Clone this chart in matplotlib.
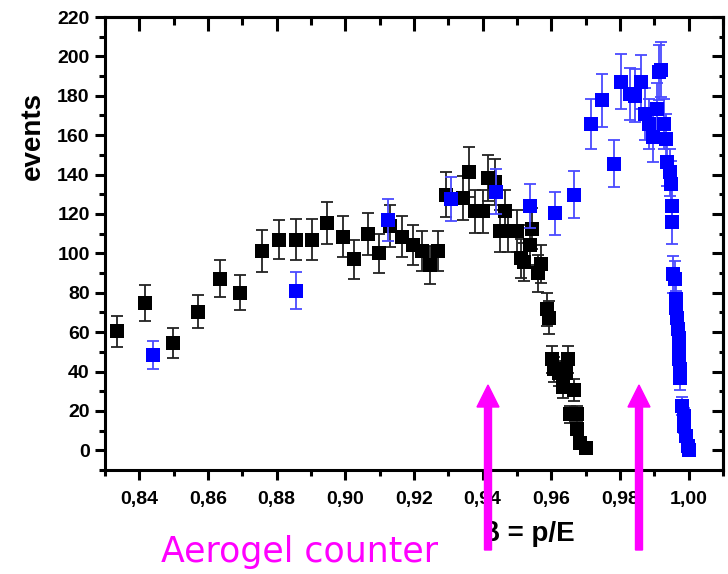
"""Aerogel counter beta distribution, black vs blue samples."""

import matplotlib
matplotlib.use("Agg")
import matplotlib.pyplot as plt
from matplotlib.patches import FancyArrow
from matplotlib.ticker import MultipleLocator, FuncFormatter

plt.rcParams["font.family"] = ["Liberation Sans", "DejaVu Sans"]

# black series: beta, events, error
beta_black = [0.8336, 0.8417, 0.8499, 0.8570, 0.8636, 0.8693, 0.8756, 0.8807,
              0.8856, 0.8904, 0.8948, 0.8994, 0.9026, 0.9066, 0.9099, 0.9130,
              0.9165, 0.9197, 0.9223, 0.9246, 0.9270, 0.9294, 0.9343, 0.9360,
              0.9377, 0.9401, 0.9416, 0.9436, 0.9450, 0.9465, 0.9475, 0.9499,
              0.9513, 0.9520, 0.9538, 0.9545, 0.9560, 0.9569, 0.9587, 0.9594,
              0.9602, 0.9609, 0.9621, 0.9633, 0.9642, 0.9650, 0.9655, 0.9667,
              0.9675, 0.9675, 0.9684, 0.9702]
events_black = [60.5, 74.7, 54.7, 70.3, 87.2, 80.1, 101.3, 106.9, 106.9, 106.9,
                115.5, 108.4, 97.0, 109.8, 100.0, 114.0, 108.4, 104.2, 101.3, 94.2,
                101.3, 129.8, 128.0, 141.1, 121.3, 121.3, 138.2, 136.0, 111.4, 121.3,
                111.4, 111.4, 97.4, 95.7, 104.2, 112.6, 89.9, 94.5, 71.6, 67.4,
                46.2, 41.2, 39.0, 32.2, 39.0, 46.2, 18.3, 30.6, 18.3, 11.0, 3.9, 1.4]
err_black = [7.9, 9.3, 7.6, 8.4, 9.2, 9.0, 10.6, 9.9, 10.3, 10.3, 10.7, 10.4,
             9.8, 10.5, 10.0, 10.7, 10.4, 10.2, 10.1, 9.7, 10.1, 11.4, 11.3, 12.7,
             11.0, 11.0, 11.8, 11.7, 10.6, 11.0, 10.6, 10.6, 9.9, 9.8, 10.2, 10.6,
             9.5, 9.7, 8.5, 8.2, 6.8, 6.4, 6.2, 5.7, 6.2, 6.8, 4.3, 5.5, 4.3, 3.3,
             2.0, 1.2]

# blue series
beta_blue = [0.8441, 0.8856, 0.9123, 0.9309, 0.9440, 0.9538, 0.9611, 0.9667,
             0.9715, 0.9748, 0.9782, 0.9804, 0.9828, 0.9845, 0.9862, 0.9873,
             0.9885, 0.9897, 0.9908, 0.9913, 0.9920, 0.9928, 0.9935, 0.9937,
             0.9945, 0.9949, 0.9952, 0.9952, 0.9955, 0.9959, 0.9962, 0.9964,
             0.9965, 0.9970, 0.9972, 0.9972, 0.9972, 0.9974, 0.9974, 0.9982,
             0.9985, 0.9987, 0.9992, 0.9997, 1.0001]
events_blue = [48.3, 81.0, 117.0, 127.5, 131.3, 124.1, 120.4, 129.7, 165.7, 177.8,
               145.6, 187.1, 180.9, 180.1, 187.1, 170.7, 165.7, 158.9, 173.3, 191.9,
               193.2, 165.7, 158.0, 146.2, 141.1, 135.2, 124.1, 115.7, 89.4, 86.9,
               76.7, 72.5, 67.4, 61.5, 57.2, 53.0, 46.2, 41.2, 36.9, 22.5,
               17.4, 12.3, 7.3, 2.2, 0.0]
err_blue = [7.0, 9.3, 10.6, 11.3, 11.3, 11.2, 11.0, 12.0, 12.7, 13.5, 12.0, 14.0,
            13.4, 13.4, 13.7, 13.1, 12.9, 12.6, 13.2, 13.9, 13.9, 12.9, 12.6, 12.1,
            11.9, 11.6, 11.1, 10.8, 9.5, 9.3, 8.8, 8.5, 8.2, 7.8, 7.6, 7.3,
            6.8, 6.4, 6.1, 4.7, 4.2, 3.5, 2.7, 1.5, 0.5]

W, H = 728, 574
fig = plt.figure(figsize=(W / 100, H / 100), dpi=100)
ax = fig.add_axes([105 / W, 1 - 470 / H, 618 / W, 453 / H])

# error bars first, squares on top (blue over black)
ax.errorbar(beta_black, events_black, yerr=err_black, fmt="none",
            ecolor="#222222", elinewidth=1.3, capsize=4.3, capthick=1.3,
            zorder=2)
ax.plot(beta_black, events_black, "s", color="black", ms=9.5, mew=0, zorder=3)
ax.errorbar(beta_blue, events_blue, yerr=err_blue, fmt="none",
            ecolor="#4a4aff", elinewidth=1.3, capsize=4.3, capthick=1.3,
            zorder=4)
ax.plot(beta_blue, events_blue, "s", color="#0000ff", ms=9.5, mew=0, zorder=5)

ax.set_xlim(0.83, 1.01)
ax.set_ylim(-10, 220)

comma = FuncFormatter(lambda v, p: f"{v:.2f}".replace(".", ","))
ax.xaxis.set_major_locator(MultipleLocator(0.02))
ax.xaxis.set_minor_locator(MultipleLocator(0.01))
ax.xaxis.set_major_formatter(comma)
ax.yaxis.set_major_locator(MultipleLocator(20))
ax.yaxis.set_minor_locator(MultipleLocator(10))

for s in ax.spines.values():
    s.set_linewidth(2.2)

ax.tick_params(which="major", direction="out", length=7, width=2.2,
               labelsize=14, pad=4)
ax.tick_params(which="minor", direction="out", length=4, width=2.2)
ax.tick_params(axis="x", which="major", pad=8)
for lab in ax.get_xticklabels() + ax.get_yticklabels():
    lab.set_fontweight("bold")

# mirror axes with inward ticks
top = ax.secondary_xaxis("top")
top.xaxis.set_major_locator(MultipleLocator(0.02))
top.xaxis.set_minor_locator(MultipleLocator(0.01))
top.tick_params(which="major", direction="in", length=10, width=2.2, labeltop=False)
top.tick_params(which="minor", direction="in", length=6, width=2.2)
top.spines["top"].set_linewidth(2.2)

right = ax.secondary_yaxis("right")
right.yaxis.set_major_locator(MultipleLocator(20))
right.yaxis.set_minor_locator(MultipleLocator(10))
right.tick_params(which="major", direction="in", length=8, width=2.2, labelright=False)
right.tick_params(which="minor", direction="in", length=3, width=2.2)
right.spines["right"].set_linewidth(2.2)

fig.text(33 / W, 1 - 136 / H, "events", rotation=90, ha="center", va="center",
         fontsize=20, fontweight="bold")
fig.text(529 / W, 1 - 534 / H, "β = p/E", ha="center", va="center",
         fontsize=20, fontweight="bold")
fig.text(161 / W, 1 - 552 / H, "Aerogel counter", ha="left", va="center",
         fontsize=25, color="#ff00ff", family=["DejaVu Sans"])

# magenta arrows
for xp in (488, 639):
    fig.add_artist(FancyArrow(xp / W, 1 - 550 / H, 0, 143 / H,
                              width=7 / W, head_width=22 / W,
                              head_length=22 / H, length_includes_head=False,
                              color="#ff00ff", transform=fig.transFigure,
                              zorder=10))

fig.savefig("out.png", dpi=100)
